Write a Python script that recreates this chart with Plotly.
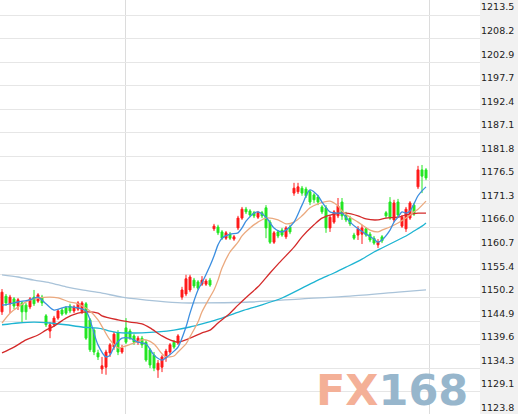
import plotly.graph_objects as go

# ---------------- data ----------------
opens = [1147.0, 1150.5, 1148.8, 1149.9, 1148.3, 1149.0, 1148.5, 1148.1, 1150.3, 1149.4,
         1150.3, 1146.1, 1142.7, 1144.1, 1145.6, 1147.4, 1147.9, 1148.3, 1147.2, 1147.6,
         1147.0, 1148.8, 1145.2, 1142.9, 1137.8, 1134.2, 1134.6, 1137.8, 1139.1, 1142.3,
         1138.0, 1143.4, 1142.7, 1141.6, 1140.2, 1141.1, 1140.2, 1138.5, 1137.3, 1134.0,
         1134.6, 1136.7, 1138.0, 1140.2, 1140.0, 1150.3, 1151.0, 1151.9, 1154.1, 1153.7,
         1153.2, 1153.2, 1154.1, 1165.6, 1166.0, 1164.9, 1163.5, 1164.4, 1163.3, 1165.8,
         1168.0, 1170.0, 1169.6, 1169.2, 1168.2, 1169.2, 1170.3, 1167.1, 1162.6, 1164.9,
         1165.3, 1163.8, 1166.0, 1173.6, 1173.9, 1174.7, 1174.5, 1173.9, 1173.2, 1172.7,
         1170.5, 1170.3, 1165.8, 1167.1, 1168.5, 1171.6, 1168.7, 1168.0, 1164.2, 1164.2,
         1164.4, 1165.6, 1164.4, 1163.5, 1162.0, 1163.8, 1169.2, 1171.6, 1167.6, 1171.6,
         1166.2, 1165.6, 1168.0, 1170.9, 1175.0, 1178.8, 1178.8]
highs = [1152.1, 1151.0, 1150.8, 1150.3, 1150.1, 1149.4, 1149.0, 1150.3, 1151.9, 1151.2,
         1150.8, 1146.5, 1144.7, 1146.1, 1147.6, 1147.9, 1148.3, 1148.8, 1148.5, 1149.4,
         1149.4, 1149.2, 1145.6, 1143.4, 1138.5, 1136.9, 1138.5, 1140.0, 1142.5, 1142.9,
         1139.6, 1145.6, 1143.2, 1142.0, 1141.6, 1141.6, 1140.7, 1138.9, 1138.0, 1136.2,
         1137.3, 1138.7, 1140.0, 1140.7, 1142.0, 1152.6, 1155.3, 1155.3, 1154.6, 1154.1,
         1155.0, 1154.4, 1154.6, 1166.7, 1166.5, 1165.3, 1165.1, 1164.9, 1164.2, 1168.5,
         1170.5, 1170.5, 1170.0, 1169.6, 1169.6, 1169.6, 1170.9, 1167.6, 1165.1, 1165.3,
         1165.8, 1166.2, 1166.5, 1175.9, 1175.9, 1175.2, 1175.0, 1174.3, 1173.6, 1173.2,
         1170.9, 1170.9, 1168.7, 1169.8, 1172.5, 1172.5, 1169.4, 1168.5, 1164.7, 1166.2,
         1166.5, 1166.0, 1164.9, 1164.0, 1163.3, 1164.2, 1169.6, 1172.7, 1172.1, 1172.3,
         1168.7, 1170.5, 1171.8, 1171.4, 1179.7, 1179.9, 1179.2]
lows = [1146.3, 1148.3, 1146.7, 1147.6, 1147.4, 1144.7, 1145.2, 1147.6, 1148.3, 1149.0,
        1148.3, 1143.6, 1141.1, 1143.6, 1145.2, 1146.1, 1146.3, 1146.7, 1146.7, 1147.2,
        1146.5, 1140.7, 1138.0, 1137.3, 1136.2, 1133.1, 1132.9, 1136.9, 1138.5, 1137.3,
        1137.6, 1139.8, 1140.7, 1139.6, 1139.6, 1138.9, 1135.8, 1134.4, 1133.7, 1132.2,
        1133.5, 1135.8, 1137.3, 1138.7, 1139.6, 1149.7, 1150.5, 1151.4, 1152.3, 1151.9,
        1152.8, 1152.8, 1152.6, 1165.1, 1164.2, 1163.1, 1163.1, 1163.1, 1162.9, 1165.3,
        1167.6, 1168.9, 1168.2, 1168.0, 1167.8, 1168.0, 1163.5, 1162.2, 1162.2, 1163.5,
        1163.8, 1163.3, 1164.4, 1173.0, 1173.4, 1173.0, 1172.5, 1170.9, 1171.4, 1170.9,
        1168.9, 1164.7, 1164.9, 1166.7, 1168.0, 1167.6, 1167.1, 1166.2, 1163.1, 1163.1,
        1162.2, 1163.8, 1162.6, 1162.0, 1161.3, 1162.4, 1168.0, 1167.6, 1167.1, 1168.2,
        1165.8, 1164.9, 1167.6, 1168.5, 1174.5, 1173.6, 1176.5]
closes = [1151.4, 1149.0, 1150.3, 1148.3, 1149.7, 1147.0, 1147.0, 1149.9, 1148.8, 1150.8,
          1149.0, 1144.1, 1144.1, 1145.6, 1147.2, 1146.5, 1146.7, 1147.2, 1148.1, 1149.0,
          1149.0, 1141.1, 1138.5, 1138.0, 1136.9, 1134.9, 1138.0, 1139.6, 1142.0, 1138.0,
          1138.9, 1140.2, 1141.1, 1140.2, 1141.1, 1139.6, 1136.2, 1135.1, 1134.4, 1135.5,
          1136.9, 1138.2, 1139.6, 1139.1, 1141.6, 1151.9, 1154.4, 1154.8, 1152.8, 1152.3,
          1154.1, 1153.9, 1153.0, 1166.2, 1164.7, 1163.5, 1164.7, 1163.5, 1163.8, 1168.0,
          1170.0, 1169.4, 1168.7, 1168.5, 1169.2, 1168.5, 1165.8, 1162.6, 1164.7, 1164.0,
          1164.2, 1165.8, 1164.9, 1174.7, 1175.0, 1173.6, 1173.0, 1171.6, 1172.1, 1171.6,
          1169.4, 1165.8, 1168.2, 1169.4, 1170.7, 1168.5, 1167.6, 1166.7, 1163.5, 1165.6,
          1165.8, 1164.2, 1163.1, 1162.4, 1162.6, 1162.9, 1168.5, 1168.0, 1171.4, 1168.7,
          1168.2, 1170.0, 1171.4, 1168.9, 1178.8, 1177.4, 1177.0]
bar_index = list(range(len(opens)))

ma_blue_idx = [0, 2, 4, 7, 9, 11, 13, 16, 19, 21, 22, 24, 26, 27, 28, 30, 32, 34, 36, 38,
               40, 41, 43, 44, 46, 47, 49, 50, 52, 53, 54, 55, 57, 59, 60, 61, 63, 64, 66, 68,
               70, 71, 73, 75, 77, 79, 80, 82, 84, 85, 87, 89, 91, 93, 94, 95, 97, 98, 99, 100,
               101, 102, 103, 104, 105, 106]
ma_blue = [1148.5, 1148.8, 1149.2, 1149.7, 1150.3, 1148.8, 1147.4, 1148.1, 1147.9, 1147.2,
           1145.2, 1139.6, 1136.9, 1137.3, 1139.1, 1141.1, 1141.1, 1140.2, 1139.8, 1137.3,
           1136.2, 1136.7, 1138.2, 1139.1, 1143.6, 1146.7, 1151.9, 1153.5, 1157.3, 1159.5,
           1162.0, 1163.5, 1164.4, 1164.7, 1165.8, 1167.3, 1169.1, 1169.4, 1168.2, 1165.8,
           1164.9, 1165.3, 1167.1, 1170.9, 1174.3, 1173.0, 1171.6, 1169.4, 1169.1, 1169.1,
           1167.1, 1165.6, 1164.4, 1163.3, 1162.6, 1163.1, 1165.3, 1167.1, 1168.2, 1169.4,
           1169.1, 1169.6, 1171.2, 1173.0, 1174.1, 1175.0]

ma_tan_idx = [0, 2, 4, 7, 9, 12, 14, 17, 19, 22, 24, 27, 29, 30, 33, 35, 36, 38, 40, 41,
              43, 44, 46, 47, 49, 50, 52, 53, 54, 55, 57, 59, 60, 62, 64, 66, 69, 71, 73, 75,
              77, 79, 82, 84, 85, 87, 89, 92, 94, 95, 97, 99, 101, 103, 104, 106]
ma_tan = [1144.5, 1146.7, 1148.1, 1149.7, 1150.1, 1150.3, 1150.1, 1149.2, 1148.8, 1147.2,
          1145.2, 1140.7, 1138.9, 1139.1, 1140.0, 1140.7, 1140.7, 1139.8, 1137.6, 1136.9,
          1137.1, 1138.0, 1139.8, 1141.4, 1144.7, 1147.0, 1150.3, 1151.9, 1154.1, 1156.8,
          1160.4, 1162.6, 1164.0, 1165.8, 1167.1, 1168.0, 1167.6, 1166.7, 1167.1, 1168.5,
          1170.3, 1171.2, 1171.8, 1170.7, 1169.6, 1168.2, 1167.1, 1165.3, 1164.9, 1165.3,
          1166.0, 1166.9, 1168.0, 1169.4, 1170.0, 1171.8]

ma_red_idx = [0, 3, 6, 9, 11, 13, 16, 19, 21, 24, 25, 29, 32, 35, 37, 40, 42, 44, 47, 50,
              52, 54, 57, 59, 62, 64, 67, 69, 73, 75, 78, 80, 83, 86, 89, 91, 94, 96, 99, 101,
              104, 106]
ma_red = [1137.8, 1139.1, 1140.7, 1141.8, 1142.9, 1143.8, 1145.6, 1146.7, 1147.0, 1146.7,
          1146.1, 1145.2, 1144.7, 1144.3, 1143.4, 1141.6, 1140.7, 1140.2, 1141.1, 1142.3,
          1142.9, 1144.5, 1146.7, 1148.5, 1151.0, 1152.6, 1155.7, 1157.7, 1161.5, 1163.8,
          1166.5, 1168.0, 1168.9, 1169.1, 1168.5, 1167.8, 1167.6, 1168.0, 1168.2, 1168.7,
          1169.1, 1169.1]

ma_cyan_idx = [0, 4, 8, 12, 16, 20, 25, 27, 30, 35, 39, 43, 47, 50, 55, 60, 64, 70, 75, 79,
               83, 86, 90, 93, 95, 97, 99, 101, 103, 105, 106]
ma_cyan = [1144.1, 1144.5, 1144.7, 1144.5, 1144.1, 1143.6, 1143.2, 1142.7, 1142.3, 1142.3,
           1142.5, 1142.9, 1143.6, 1144.3, 1145.6, 1147.2, 1148.3, 1150.1, 1152.3, 1154.1,
           1155.7, 1157.0, 1158.8, 1160.4, 1161.3, 1162.2, 1163.1, 1164.0, 1165.1, 1166.2,
           1166.9]

ma_long_idx = [0, 4, 8, 12, 16, 20, 25, 30, 39, 45, 50, 62, 75, 87, 99, 106]
ma_long = [1155.3, 1154.8, 1154.1, 1153.5, 1152.6, 1151.9, 1151.2, 1150.3, 1149.4, 1149.0,
           1149.0, 1149.2, 1149.9, 1150.5, 1151.4, 1151.9]

price_ticks = [1213.5, 1208.2, 1202.9, 1197.7, 1192.4, 1187.1, 1181.8, 1176.5, 1171.3,
               1166.0, 1160.7, 1155.4, 1150.2, 1144.9, 1139.6, 1134.3, 1129.1, 1123.8]
session_breaks = [30.75, 106.75]

# ---------------- styling ----------------
UP = "#ff1a1a"
DOWN = "#22e622"

fig = go.Figure()

ma_specs = [
    (ma_long_idx, ma_long, "#a9c3d9"),
    (ma_cyan_idx, ma_cyan, "#1db4d2"),
    (ma_red_idx, ma_red, "#d42a2a"),
    (ma_tan_idx, ma_tan, "#eba97e"),
    (ma_blue_idx, ma_blue, "#3b8ee0"),
]

fig.add_trace(go.Candlestick(
    x=bar_index, open=opens, high=highs, low=lows, close=closes,
    increasing=dict(line=dict(color=UP, width=1), fillcolor=UP),
    decreasing=dict(line=dict(color=DOWN, width=1), fillcolor=DOWN),
    whiskerwidth=0, showlegend=False, hoverinfo="skip",
))

for xs, ys, col in ma_specs:
    fig.add_trace(go.Scatter(
        x=xs, y=ys, mode="lines",
        line=dict(color=col, width=1.3, shape="spline", smoothing=0.8),
        showlegend=False, hoverinfo="skip",
    ))

# invisible trace to carry the label axis
fig.add_trace(go.Scatter(x=[-20], y=[1150], yaxis="y2", mode="markers",
                         marker=dict(opacity=0), showlegend=False, hoverinfo="skip"))

Y0, Y1 = 1124.11, 1216.86
SHIFT = 1.79

fig.update_layout(
    width=518, height=414,
    margin=dict(l=0, r=38, t=0, b=0),
    paper_bgcolor="#f1f1f1",
    plot_bgcolor="#ffffff",
    xaxis=dict(range=[-0.5, 119.5], showticklabels=False, ticks="",
               tickvals=session_breaks, showgrid=True, gridcolor="#dcdcdc", gridwidth=1,
               zeroline=False, showline=False, rangeslider=dict(visible=False), fixedrange=True),
    yaxis=dict(range=[Y0, Y1], tickvals=price_ticks, showticklabels=False, ticks="",
               showgrid=True, gridcolor="#e6e6e6", gridwidth=1, zeroline=False,
               showline=False, side="right"),
    yaxis2=dict(range=[Y0 - SHIFT, Y1 - SHIFT], overlaying="y", side="right",
                tickvals=price_ticks, ticktext=[f"{v:.1f}" for v in price_ticks],
                showgrid=False, zeroline=False, showline=False, ticks="",
                tickfont=dict(family="DejaVu Sans", size=9.5, color="#222222")),
    showlegend=False,
)

# FX168 watermark (single text, two colours)
fig.add_annotation(
    text="<span style='color:#f4b097'>FX</span><span style='color:#97b6cc'>168</span>",
    xref="paper", yref="paper", x=392 / 480, y=(414 - 390) / 414,
    xanchor="center", yanchor="middle", showarrow=False,
    font=dict(family="DejaVu Sans", size=43, color="#97b6cc", weight="bold"))

fig.write_html("out.html", config={"displayModeBar": False},
               post_script="document.body.style.margin='0px';document.body.style.overflow='hidden';")
